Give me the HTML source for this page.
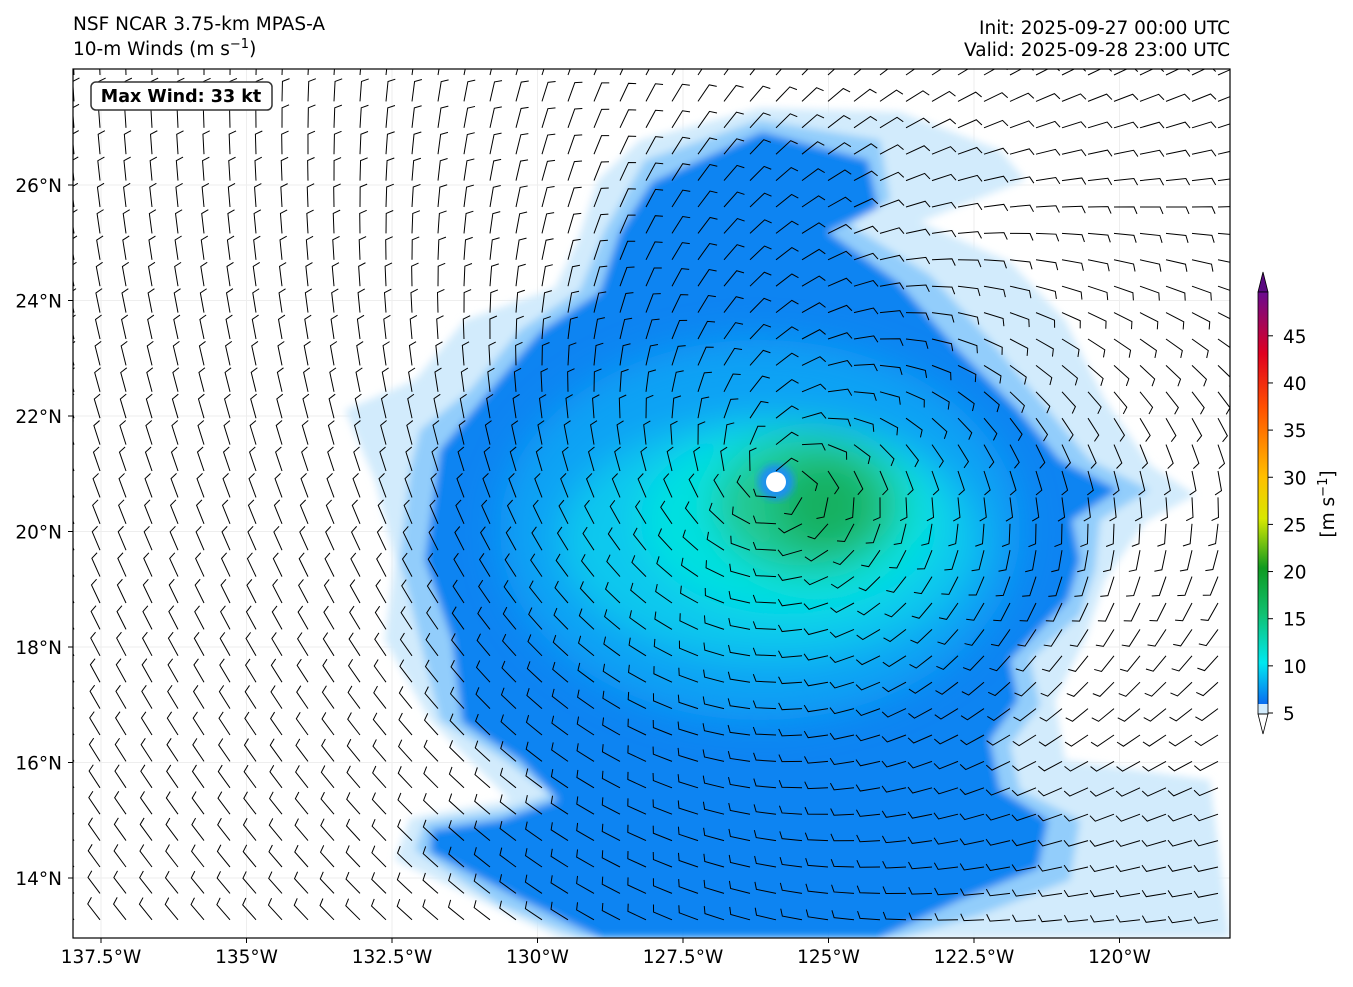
<!DOCTYPE html>
<html><head><meta charset="utf-8"><style>
body{margin:0;background:#fff;}
text{font-family:"DejaVu Sans","Liberation Sans",sans-serif;}
</style></head><body>
<svg id="s" width="1353" height="982" xmlns="http://www.w3.org/2000/svg">
<defs>
<clipPath id="pc"><rect x="73" y="69" width="1157" height="869"/></clipPath>
<filter id="bl" x="-10%" y="-10%" width="120%" height="120%"><feGaussianBlur stdDeviation="4"/></filter>
<filter id="bl2" x="-30%" y="-30%" width="160%" height="160%"><feGaussianBlur stdDeviation="18"/></filter>
<linearGradient id="cb" x1="0" y1="1" x2="0" y2="0">
<stop offset="0" stop-color="#0a6cf0"/><stop offset="0.1" stop-color="#00e8f0"/><stop offset="0.22" stop-color="#10c070"/>
<stop offset="0.33" stop-color="#109a20"/><stop offset="0.45" stop-color="#d8e800"/><stop offset="0.55" stop-color="#ffc000"/>
<stop offset="0.72" stop-color="#ff5000"/><stop offset="0.85" stop-color="#e00020"/><stop offset="1" stop-color="#6a0a90"/></linearGradient>
</defs>
<text x="73" y="30" font-size="18.5">NSF NCAR 3.75-km MPAS-A</text>
<text x="73" y="55" font-size="18.5">10-m Winds (m s<tspan dy="-7" font-size="13">−1</tspan><tspan dy="7">)</tspan></text>
<text x="1230" y="34" font-size="18.5" text-anchor="end">Init: 2025-09-27 00:00 UTC</text>
<text x="1230" y="56" font-size="18.5" text-anchor="end">Valid: 2025-09-28 23:00 UTC</text>
<g clip-path="url(#pc)">
<rect x="73" y="69" width="1157" height="869" fill="#fff"/>
<g id="grid" stroke="#eeeeee" stroke-width="1"></g>
<g filter="url(#bl)">
<polygon fill="#d2ebfc" points="640,140 760,108 900,112 1000,150 1025,180 920,222 1010,262 1065,320 1105,400 1150,465 1195,495 1145,522 1105,580 1085,640 1055,700 1065,760 1210,780 1230,938 560,938 395,860 410,818 510,800 470,760 430,720 385,640 395,560 375,480 345,410 415,380 465,320 555,288 578,240 598,180"/>
<polygon fill="#92cdfb" points="645,160 760,120 880,140 890,200 850,225 930,275 990,340 1040,400 1090,460 1150,490 1100,520 1095,570 1080,615 1030,660 1040,705 1010,745 1020,790 1080,820 1070,880 980,915 900,938 580,938 500,905 415,850 425,822 505,810 550,795 505,760 440,720 420,640 400,560 410,470 420,430 470,390 520,330 580,290 605,230"/>
<polygon fill="#0f84f2" points="652,182 762,132 868,160 878,208 828,232 898,282 958,350 1018,410 1060,460 1118,490 1072,520 1080,560 1068,600 1010,660 1018,700 990,740 1000,790 1048,820 1038,868 960,900 880,938 600,938 522,900 430,852 432,830 500,820 558,800 520,760 462,722 452,640 425,560 440,450 482,400 540,332 600,292 620,232"/>
</g>
<g filter="url(#bl2)">
<ellipse cx="760" cy="530" rx="260" ry="190" fill="#10a2f4"/>
<ellipse cx="770" cy="540" rx="210" ry="120" fill="#10c8ee"/>
<ellipse cx="790" cy="520" rx="150" ry="95" fill="#00e0e0"/>
<ellipse cx="810" cy="505" rx="95" ry="70" fill="#20c890"/>
<ellipse cx="825" cy="505" rx="50" ry="45" fill="#18b060"/>
</g>
<circle cx="776" cy="482" r="18" fill="#1a90f0" filter="url(#bl)"/>
<circle cx="776" cy="482" r="10" fill="#fff"/>
<g id="barbs" stroke="#000" stroke-width="1" fill="none"></g>
</g>
<rect x="73" y="69" width="1157" height="869" fill="none" stroke="#000" stroke-width="1.2"/>
<g id="axes"></g>
<rect x="91" y="82" width="181" height="28" rx="5" fill="#fff" stroke="#333" stroke-width="1.5"/>
<text x="181" y="102" font-size="17.5" font-weight="bold" text-anchor="middle">Max Wind: 33 kt</text>
<g>
<polygon points="1258,292 1263,272 1268,292" fill="#5a0a80" stroke="#000" stroke-width="0.8"/>
<rect x="1258" y="292" width="10" height="412" fill="url(#cb)"/>
<rect x="1258" y="704" width="10" height="10" fill="#d2ebfc"/>
<polygon points="1258,714 1263,734 1268,714" fill="#fff" stroke="#000" stroke-width="0.8"/>
<rect x="1258" y="292" width="10" height="422" fill="none" stroke="#000" stroke-width="0.8"/>
<g id="cbt"></g>
<text transform="translate(1334,504) rotate(-90)" font-size="18.5" text-anchor="middle">[m s<tspan dy="-7" font-size="13">−1</tspan><tspan dy="7">]</tspan></text>
</g>
</svg>
<script>
const lonTicks=[137.5,135,132.5,130,127.5,125,122.5,120];
const latTicks=[26,24,22,20,18,16,14];
const cbTicks=[5,10,15,20,25,30,35,40,45];
const stormLon=125.9, stormLat=20.85;
const NS="http://www.w3.org/2000/svg";
function xs(lon){return 101+(137.5-lon)*58.2;}
function ys(lat){return 185+(26-lat)*57.75;}
function cy(v){return 713-(v-5)*9.43;}
function mk(t,a,p){const e=document.createElementNS(NS,t);for(const k in a)e.setAttribute(k,a[k]);p.appendChild(e);return e;}
const grid=document.getElementById('grid'),axes=document.getElementById('axes');
lonTicks.forEach(l=>{const x=xs(l);
 mk('line',{x1:x,y1:69,x2:x,y2:938},grid);
 const t=mk('line',{x1:x,y1:938,x2:x,y2:943,stroke:'#000'},axes);
 
 const tx=mk('text',{x:x,y:963,'font-size':18.5,'text-anchor':'middle'},axes);tx.textContent=l+'°W';
 });
latTicks.forEach(l=>{const y=ys(l);
 mk('line',{x1:73,y1:y,x2:1230,y2:y},grid);
 const t=mk('line',{x1:68,y1:y,x2:73,y2:y,stroke:'#000'},axes);
 
 const tx=mk('text',{x:62,y:y+7,'font-size':18.5,'text-anchor':'end'},axes);tx.textContent=l+'°N';
 });
const cbt=document.getElementById('cbt');
cbTicks.forEach(v=>{const y=cy(v);mk('line',{x1:1268,y1:y,x2:1273,y2:y,stroke:'#000'},cbt);
 const tx=mk('text',{x:1283,y:y+7,'font-size':18.5},cbt);tx.textContent=v;
 });
const bg=document.getElementById('barbs');const cx0=xs(stormLon),cy0=ys(stormLat);
for(let y=75;y<940;y+=26.4){for(let x=74;x<1232;x+=26){
 const dx=x-cx0,dy=y-cy0,r=Math.hypot(dx,dy)+1;
 let u=dy/r, v=-dx/r; u+=-0.3*dx/r; v+=-0.3*dy/r;
 const w=Math.max(0.45,Math.min(1,260/r)); u*=w; v*=w; u+=0.15; v+=0.35;
 const m=Math.hypot(u,v); if(m<0.08){mk('circle',{cx:x,cy:y,r:2},bg);continue;}
 const ux=-u/m, uy=-v/m, L=20;
 const ex=x+ux*L, ey=y+uy*L;
 const p=mk('path',{d:`M${x},${y}L${ex},${ey}l${(-uy*7+ux*3).toFixed(1)},${(ux*7+uy*3).toFixed(1)}`},bg);
 
}}
</script>
</body></html>
